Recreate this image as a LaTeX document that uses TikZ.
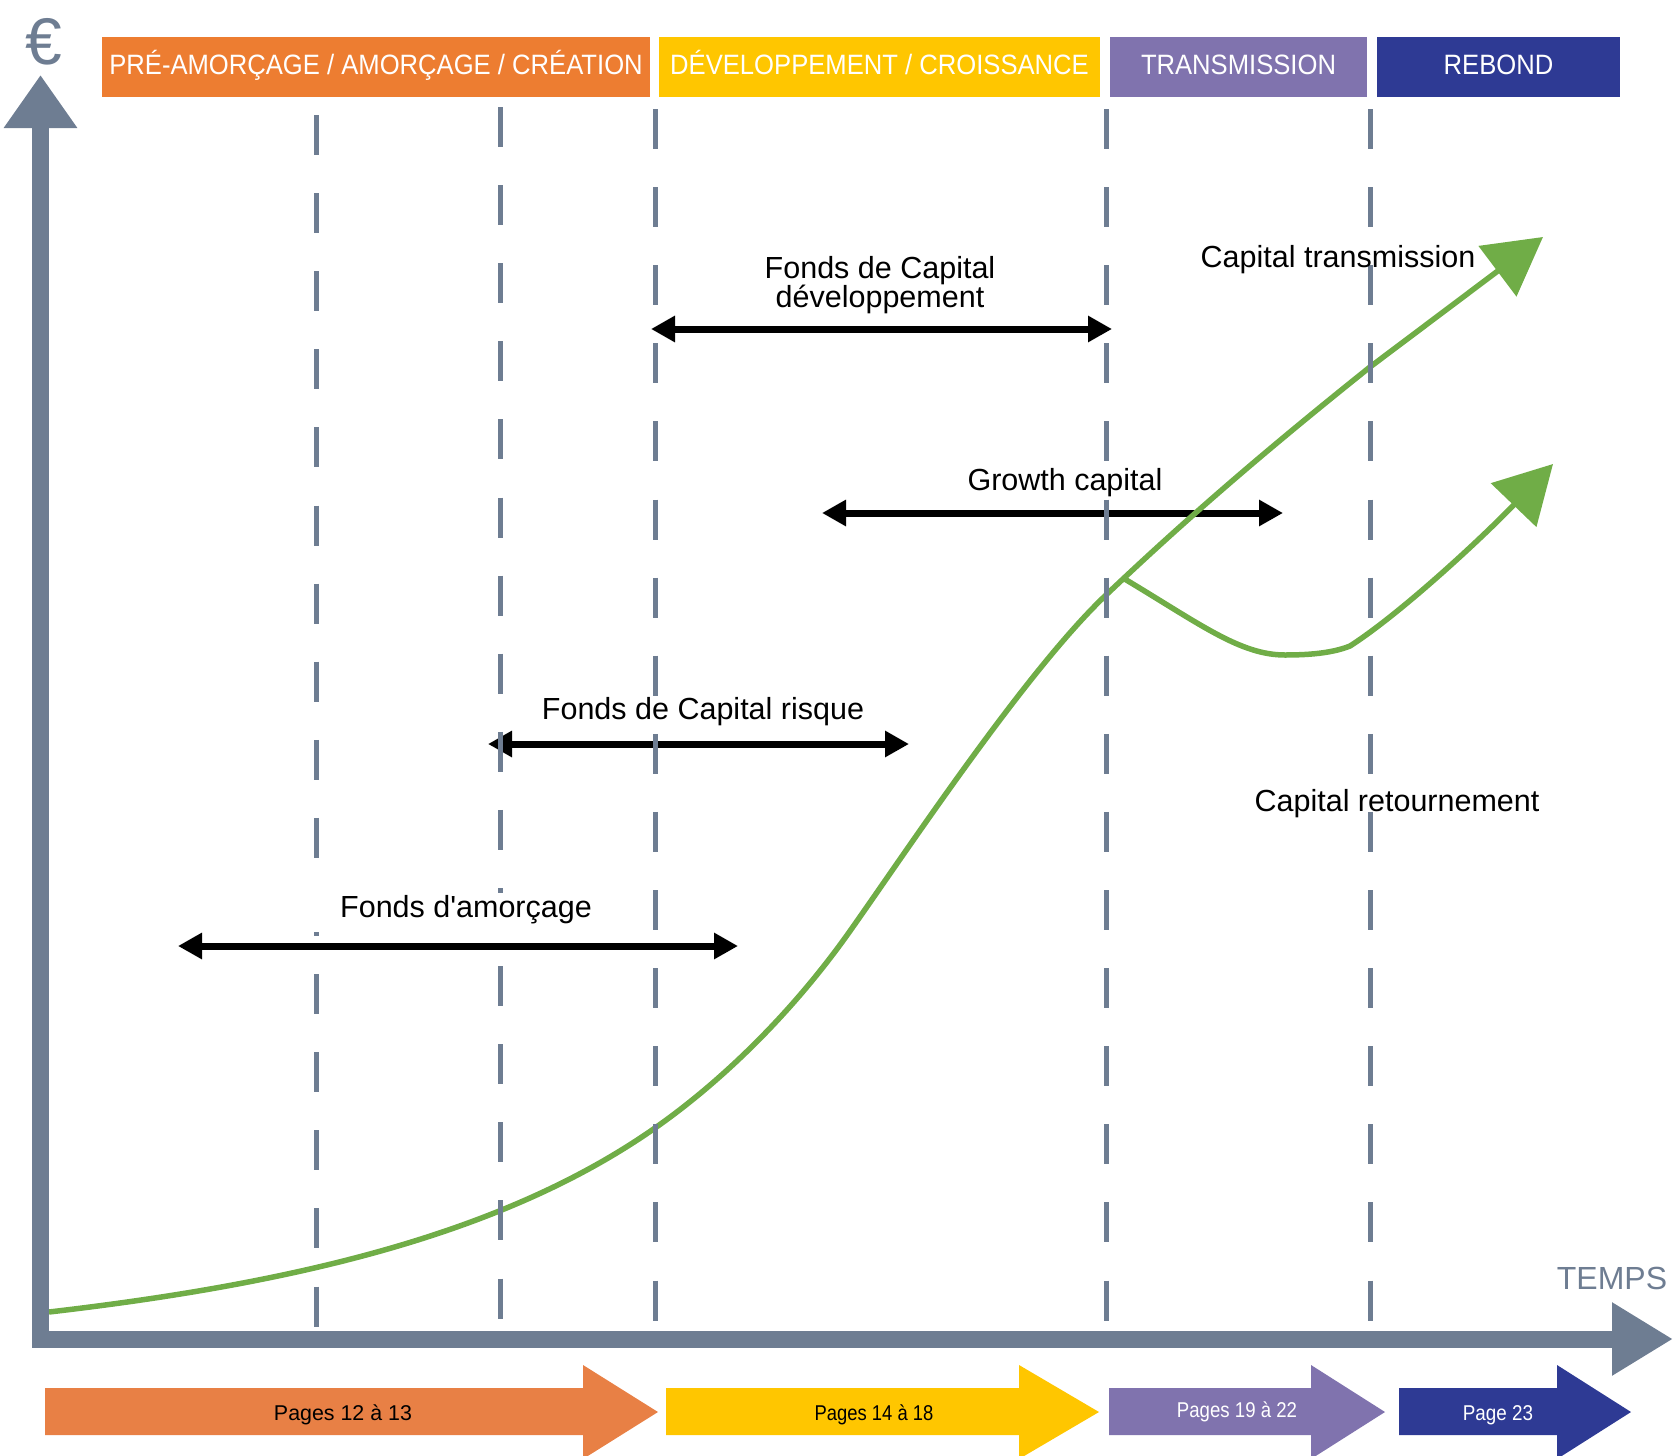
\documentclass[tikz,border=0pt]{standalone}
\usepackage{fontspec}
\setmainfont{Liberation Sans}[Ligatures=TeXOff]
\usepackage{graphicx}
\usetikzlibrary{arrows.meta}
\definecolor{axisgray}{RGB}{110,125,146}
\definecolor{hdrorange}{RGB}{237,125,49}
\definecolor{botorange}{RGB}{232,128,69}
\definecolor{cyellow}{RGB}{255,198,0}
\definecolor{cpurple}{RGB}{128,115,174}
\definecolor{cnavy}{RGB}{46,58,148}
\definecolor{cgreen}{RGB}{112,173,71}
\begin{document}
\begin{tikzpicture}[x=1pt,y=-1pt,
  lbl/.style={font=\fontsize{30.5}{34}\selectfont, anchor=base, inner sep=0pt, text=black},
  hdrbox/.style={minimum height=60pt, inner sep=0pt, text=white, font=\fontsize{28}{30}\selectfont, text height=18pt, text depth=4pt},
  pagetxt/.style={font=\fontsize{21.4}{24}\selectfont, anchor=base, inner sep=0pt},
  vdash/.style={draw=axisgray, line width=5pt, dash pattern=on 40pt off 38.1pt},
  fund/.style={draw=black, line width=7pt, arrows={Triangle[length=24pt,width=25pt]-Triangle[length=24pt,width=25pt]}},
  growthline/.style={draw=cgreen, line width=5.5pt, arrows={-Triangle[length=57pt,width=62pt]}},
  axisline/.style={draw=axisgray, line width=17pt, line join=miter}
]
\useasboundingbox (0,0) rectangle (1673,1456);

% header boxes
\node[hdrbox, fill=hdrorange, minimum width=548pt] (hA) at (376,67) {\scalebox{0.915}[1]{PRÉ-AMORÇAGE / AMORÇAGE / CRÉATION}};
\node[hdrbox, fill=cyellow, minimum width=441pt] (hB) at (879.5,67) {\scalebox{0.915}[1]{DÉVELOPPEMENT / CROISSANCE}};
\node[hdrbox, fill=cpurple, minimum width=257pt] (hC) at (1238.5,67) {\scalebox{0.915}[1]{TRANSMISSION}};
\node[hdrbox, fill=cnavy, minimum width=243pt] (hD) at (1498.5,67) {\scalebox{0.915}[1]{REBOND}};

% fund arrows
\coordinate (devL) at (651,329);  \coordinate (devR) at (1112,329);
\coordinate (grL) at (822,513);   \coordinate (grR) at (1283,513);
\coordinate (riL) at (488,744);   \coordinate (riR) at (909,744);
\coordinate (amL) at (178,946);   \coordinate (amR) at (738,946);
\draw[fund] (devL) -- (devR);
\draw[fund] (grL) -- (grR);
\draw[fund] (riL) -- (riR);
\draw[fund] (amL) -- (amR);

% green curves
\coordinate (c0) at (49,1312);
\coordinate (c1) at (655,1128);
\coordinate (c2) at (850,931);
\coordinate (c3) at (1106,595);
\coordinate (c4) at (1370,367);
\coordinate (ctip) at (1543,237);
\draw[growthline] (c0) .. controls (299,1283) and (505,1233) .. (c1)
  .. controls (725,1079) and (795,1009) .. (c2)
  .. controls (910,846) and (1026,671) .. (c3)
  .. controls (1196,509.5) and (1280,439) .. (c4) -- (ctip);
\coordinate (b0) at (1123,578);
\coordinate (b1) at (1285,655);
\coordinate (b2) at (1350,646);
\coordinate (btip) at (1553,464);
\draw[growthline] (b0) .. controls (1200,624) and (1240,655) .. (b1)
  .. controls (1315,655) and (1335,652) .. (b2)
  .. controls (1400,614) and (1482,538) .. (btip);

% dashed phase lines
\coordinate (d1t) at (316,115);  \coordinate (d1b) at (316,1327);
\coordinate (d2t) at (500,107);  \coordinate (d2b) at (500,1319);
\coordinate (d3t) at (655,109);  \coordinate (d3b) at (655,1321);
\coordinate (d4t) at (1106,109); \coordinate (d4b) at (1106,1321);
\coordinate (d5t) at (1370,109); \coordinate (d5b) at (1370,1321);
\draw[vdash] (d1t) -- (d1b);
\draw[vdash] (d2t) -- (d2b);
\draw[vdash] (d3t) -- (d3b);
\draw[vdash] (d4t) -- (d4b);
\draw[vdash] (d5t) -- (d5b);

% labels
\fill[white] (305,893) rectangle (615,932);
\node[lbl] (amlbl) at (466,917) {Fonds d'amorçage};
\node[lbl] (devA) at (880,278) {Fonds de Capital};
\node[lbl] (devB) at (880,307) {développement};
\node[lbl] (grlbl) at (1065,490) {Growth capital};
\node[lbl] (rilbl) at (703,719) {Fonds de Capital risque};
\node[lbl] (trlbl) at (1338,267) {Capital transmission};
\node[lbl] (retlbl) at (1397,811) {Capital retournement};

% axes
\coordinate (ytip) at (40.5,75);
\coordinate (corner) at (40.5,1339);
\coordinate (xtip) at (1673,1339);
\draw[axisline, arrows={Triangle[length=53pt,width=70pt]-Triangle[length=61pt,width=69pt]}] (ytip) -- (corner) -- (xtip);
\node[font=\fontsize{66}{70}\selectfont, text=axisgray, anchor=base, inner sep=0pt] (euro) at (44,64) {€};
\node[font=\fontsize{32}{36}\selectfont, text=axisgray, anchor=base, inner sep=0pt] (temps) at (1612,1289) {TEMPS};

% bottom page arrows
\fill[botorange] (45,1388) -- (583,1388) -- (583,1365) -- (658,1412) -- (583,1459) -- (583,1435) -- (45,1435) -- cycle;
\fill[cyellow] (666,1388) -- (1019,1388) -- (1019,1365) -- (1099,1412) -- (1019,1459) -- (1019,1435) -- (666,1435) -- cycle;
\fill[cpurple] (1109,1388) -- (1311,1388) -- (1311,1365) -- (1385,1412) -- (1311,1459) -- (1311,1435) -- (1109,1435) -- cycle;
\fill[cnavy] (1399,1388) -- (1557,1388) -- (1557,1365) -- (1631,1412) -- (1557,1459) -- (1557,1435) -- (1399,1435) -- cycle;
\node[pagetxt, text=black] (p1) at (343,1420) {Pages 12 à 13};
\node[pagetxt, text=black] (p2) at (874,1420) {\scalebox{0.86}[1]{Pages 14 à 18}};
\node[pagetxt, text=white] (p3) at (1237,1417) {\scalebox{0.87}[1]{Pages 19 à 22}};
\node[pagetxt, text=white] (p4) at (1498,1420) {\scalebox{0.88}[1]{Page 23}};
\end{tikzpicture}
\end{document}
